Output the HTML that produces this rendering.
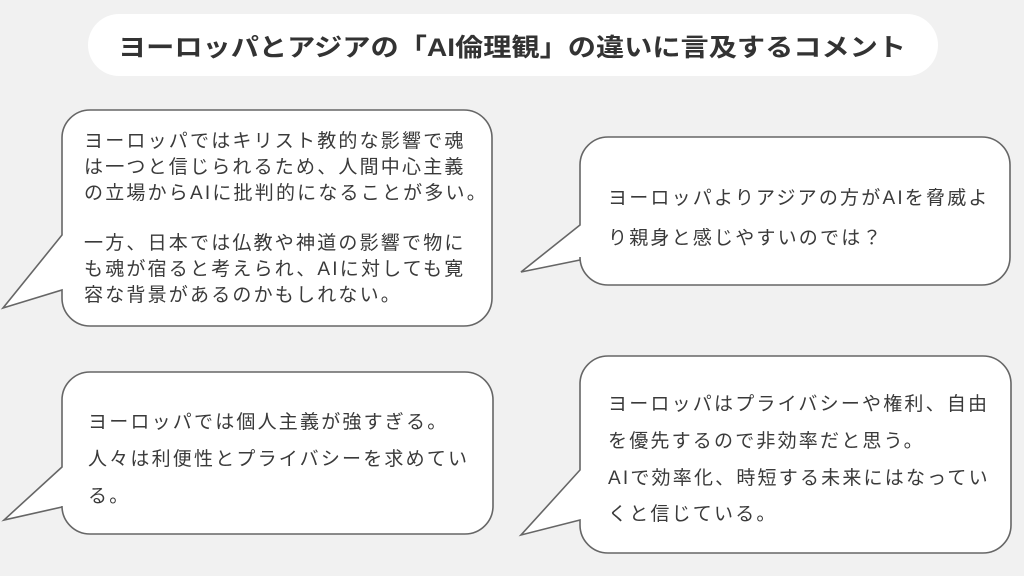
<!DOCTYPE html>
<html><head><meta charset="utf-8"><style>
html,body{margin:0;padding:0;background:#f1f1f1;}
svg{display:block;}
text{font-family:"Liberation Sans","Noto Sans CJK JP",sans-serif;fill:#3a3a3a;}
.t{font-size:19px;letter-spacing:2.2px;}
</style></head><body>
<svg width="1024" height="576" viewBox="0 0 1024 576" xmlns="http://www.w3.org/2000/svg">
<rect width="1024" height="576" fill="#f1f1f1"/>
<rect x="88" y="14" width="850" height="62" rx="31" fill="#fff"/>
<text x="118" y="56" font-size="25" font-weight="bold" textLength="788" lengthAdjust="spacingAndGlyphs" style="fill:#333">ヨーロッパとアジアの「AI倫理観」の違いに言及するコメント</text>
<g fill="#fff" stroke="#666" stroke-width="1.6">
<path d="M90,110 H464 A28,28 0 0 1 492,138 V298 A28,28 0 0 1 464,326 H90 A28,28 0 0 1 62,298 V290 L3,308 L62,235 V138 A28,28 0 0 1 90,110 Z"/>
<path d="M608,137 H982 A28,28 0 0 1 1010,165 V257 A28,28 0 0 1 982,285 H608 A28,28 0 0 1 580,257 V260 L521,272 L580,225 V165 A28,28 0 0 1 608,137 Z"/>
<path d="M90,372 H465 A28,28 0 0 1 493,400 V506 A28,28 0 0 1 465,534 H90 A28,28 0 0 1 62,506 V507 L4,520 L62,467 V400 A28,28 0 0 1 90,372 Z"/>
<path d="M608,356 H983 A28,28 0 0 1 1011,384 V525 A28,28 0 0 1 983,553 H608 A28,28 0 0 1 580,525 V520 L521,535 L580,470 V384 A28,28 0 0 1 608,356 Z"/>
</g>
<text class="t" x="84" y="147">ヨーロッパではキリスト教的な影響で魂</text>
<text class="t" x="84" y="173">は一つと信じられるため、人間中心主義</text>
<text class="t" x="84" y="199">の立場からAIに批判的になることが多い。</text>
<text class="t" x="84" y="249">一方、日本では仏教や神道の影響で物に</text>
<text class="t" x="84" y="275">も魂が宿ると考えられ、AIに対しても寛</text>
<text class="t" x="84" y="301">容な背景があるのかもしれない。</text>
<text class="t" x="608" y="204">ヨーロッパよりアジアの方がAIを脅威よ</text>
<text class="t" x="608" y="244">り親身と感じやすいのでは？</text>
<text class="t" x="88" y="428">ヨーロッパでは個人主義が強すぎる。</text>
<text class="t" x="88" y="465">人々は利便性とプライバシーを求めてい</text>
<text class="t" x="88" y="502">る。</text>
<text class="t" x="608" y="410">ヨーロッパはプライバシーや権利、自由</text>
<text class="t" x="608" y="447">を優先するので非効率だと思う。</text>
<text class="t" x="608" y="484">AIで効率化、時短する未来にはなってい</text>
<text class="t" x="608" y="520">くと信じている。</text>
</svg>
</body></html>
